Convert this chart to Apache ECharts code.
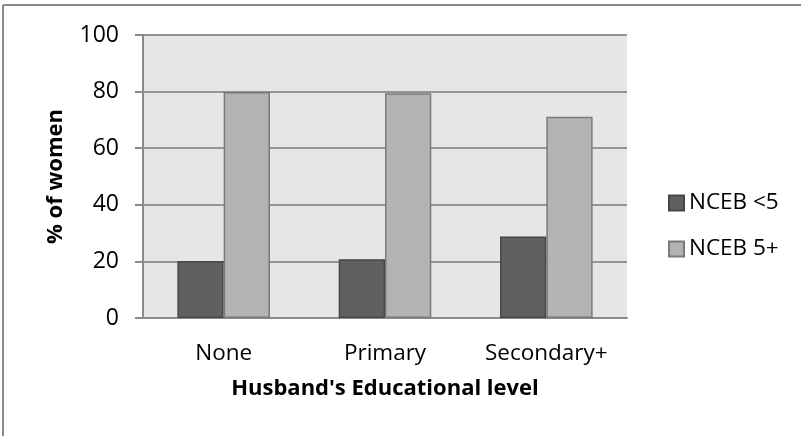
<!DOCTYPE html>
<html>
<head>
<meta charset="utf-8">
<script src="https://cdn.jsdelivr.net/npm/echarts@6/dist/echarts.min.js"></script>
<style>
  html, body { margin: 0; padding: 0; background: #fff; }
  #chart { width: 801px; height: 436px; }
</style>
</head>
<body>
<div id="chart"></div>
<script>
  // data
  const categories = ['None', 'Primary', 'Secondary+'];
  const ncebUnder5 = [20.1, 20.8, 28.8];
  const nceb5Plus = [79.9, 79.4, 71.1];
  const yTicks = { min: 0, max: 100, interval: 20 };

  const font = 'Open Sans';
  const chart = echarts.init(document.getElementById('chart'));

  chart.setOption({
    animation: false,
    graphic: [
      // outer frame (top and left edge visible)
      { type: 'line', shape: { x1: 3, y1: 5, x2: 801, y2: 5 }, style: { stroke: '#8a8a8a', lineWidth: 2 } },
      { type: 'line', shape: { x1: 3, y1: 5, x2: 3, y2: 436 }, style: { stroke: '#8a8a8a', lineWidth: 2 } }
    ],
    grid: {
      left: 143, right: 174, top: 35, bottom: 118,
      show: true, backgroundColor: '#e6e6e6', borderWidth: 0
    },
    legend: {
      orient: 'vertical',
      left: 663, top: 185,
      itemWidth: 15, itemHeight: 15,
      itemGap: 20, itemTextGap: 6,
      icon: 'rect',
      textStyle: { fontFamily: font, fontSize: 22.5, color: '#000', lineHeight: 26 },
      data: ['NCEB <5', 'NCEB 5+']
    },
    xAxis: {
      type: 'category',
      data: categories,
      name: "Husband's Educational level",
      nameLocation: 'middle',
      nameGap: 60,
      nameTextStyle: { fontFamily: font, fontSize: 22, fontWeight: 'bold', color: '#000' },
      axisLine: { lineStyle: { color: '#8a8a8a', width: 2 } },
      axisTick: { show: false },
      axisLabel: { fontFamily: font, fontSize: 22.5, color: '#000', margin: 24, interval: 0 }
    },
    yAxis: {
      type: 'value',
      min: yTicks.min, max: yTicks.max, interval: yTicks.interval,
      name: '% of women',
      nameLocation: 'middle',
      nameGap: 76,
      nameTextStyle: { fontFamily: font, fontSize: 22, fontWeight: 'bold', color: '#000' },
      axisLine: { show: true, lineStyle: { color: '#8a8a8a', width: 2 } },
      axisTick: { show: true, length: 8, lineStyle: { color: '#8a8a8a', width: 2 } },
      axisLabel: { fontFamily: font, fontSize: 23, color: '#000', margin: 24 },
      splitLine: { lineStyle: { color: '#959595', width: 2 } }
    },
    series: [
      {
        name: 'NCEB <5', type: 'bar', data: ncebUnder5,
        barWidth: '28.7%', barGap: '0%',
        itemStyle: { color: '#606060', borderColor: '#474747', borderWidth: 1.5 }
      },
      {
        name: 'NCEB 5+', type: 'bar', data: nceb5Plus,
        barWidth: '28.7%', barGap: '0%',
        itemStyle: { color: '#b3b3b3', borderColor: '#7a7a7a', borderWidth: 1.5 }
      }
    ]
  });
</script>
</body>
</html>
